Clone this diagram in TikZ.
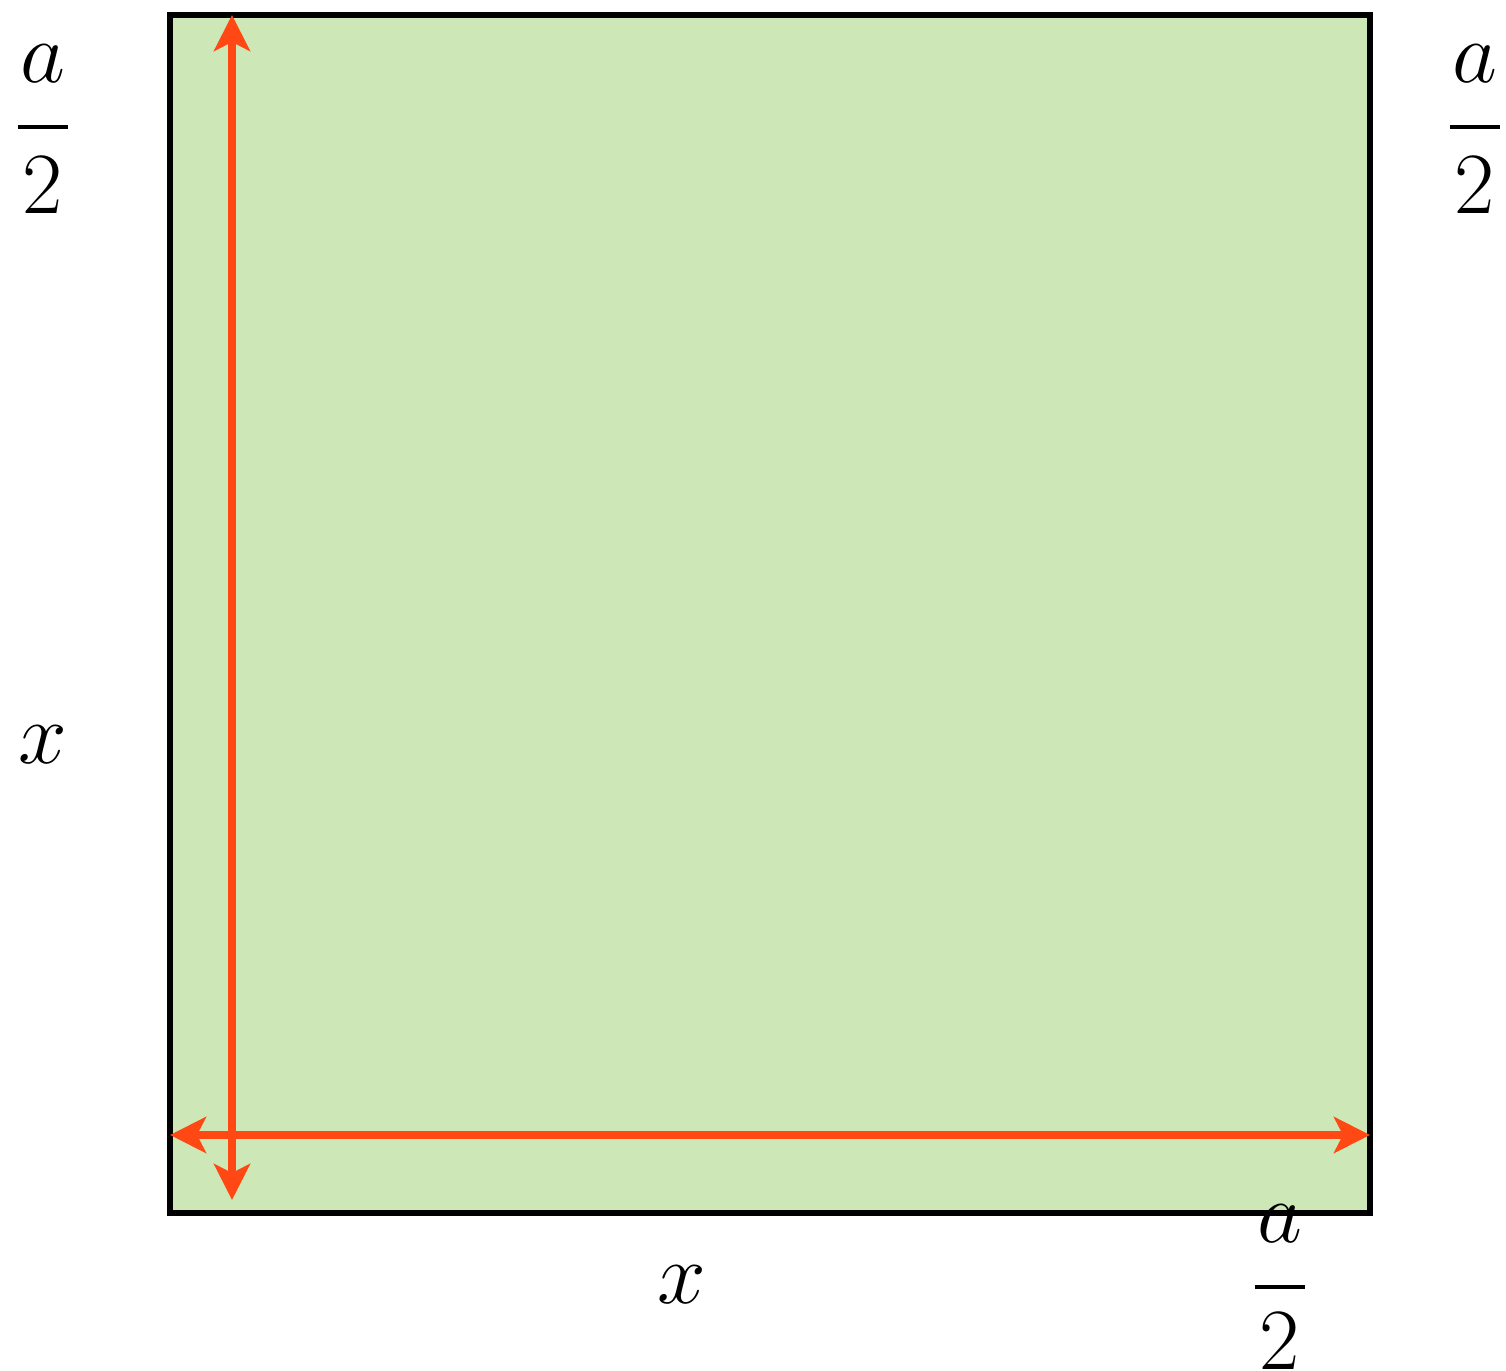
\documentclass[tikz,border=0pt]{standalone}
\usepackage{tikz}
\usetikzlibrary{arrows.meta}
\definecolor{boxgreen}{RGB}{205,232,182}
\definecolor{dimred}{RGB}{255,72,20}

\begin{document}
\begin{tikzpicture}[x=1cm,y=1cm,
  lbl/.style={inner sep=0pt,font=\fontsize{30}{36}\selectfont},
  dimarrow/.style={draw=dimred,line width=2pt,
    {Stealth[length=0.36cm,width=0.36cm,inset=0.09cm]}-{Stealth[length=0.36cm,width=0.36cm,inset=0.09cm]}},
  fracbar/.style={line width=0.04cm}]
  \useasboundingbox (0,0) rectangle (15.06,13.71);
  \coordinate (SW) at (1.70,1.58);
  \coordinate (NE) at (13.70,13.56);
  \coordinate (vtop) at (2.32,13.56);
  \coordinate (vbot) at (2.32,1.71);
  \coordinate (hleft) at (1.70,2.36);
  \coordinate (hright) at (13.70,2.36);
  \filldraw[fill=boxgreen,line width=1.6pt] (SW) rectangle (NE);
  \draw[dimarrow] (vbot) -- (vtop);
  \draw[dimarrow] (hleft) -- (hright);
  % a/2 left
  \node[lbl] (aL) at (0.43,13.075) {$a$};
  \draw[fracbar] (0.18,12.44) -- (0.68,12.44);
  \node[lbl] (twoL) at (0.43,11.86) {$2$};
  % a/2 right
  \node[lbl] (aR) at (14.75,13.075) {$a$};
  \draw[fracbar] (14.50,12.44) -- (15.00,12.44);
  \node[lbl] (twoR) at (14.75,11.86) {$2$};
  % a/2 bottom
  \node[lbl] (aB) at (12.80,1.475) {$a$};
  \draw[fracbar] (12.55,0.84) -- (13.05,0.84);
  \node[lbl] (twoB) at (12.80,0.30) {$2$};
  % x labels
  \node[lbl] (xL) at (0.43,6.26) {$x$};
  \node[lbl] (xB) at (6.82,0.86) {$x$};
\end{tikzpicture}
\end{document}
